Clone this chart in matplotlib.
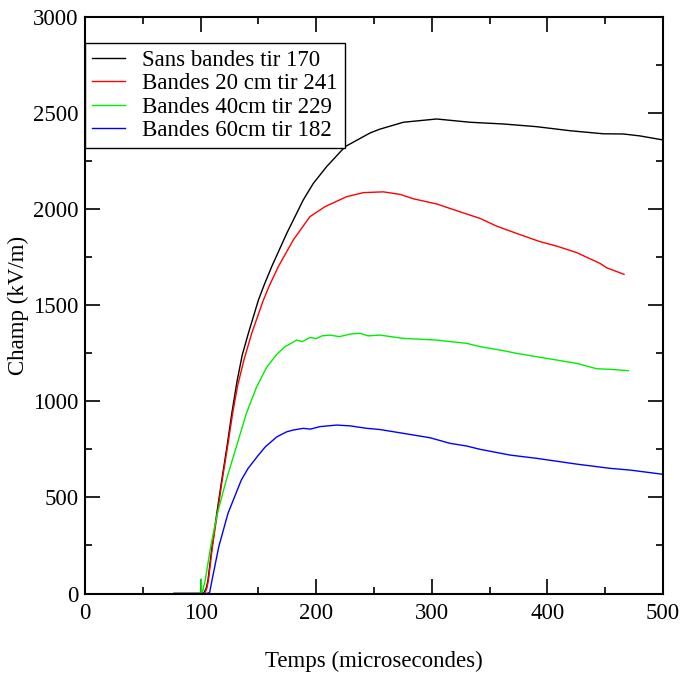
import numpy as np
import matplotlib as mpl
mpl.use('Agg')
import matplotlib.pyplot as plt
from matplotlib.ticker import MultipleLocator

# Temps (microsecondes) / Champ (kV/m)
black_t = [77, 100, 103, 105, 106.4, 109.9, 114, 118.3, 122.8, 127, 131.4, 136, 141.3,
           150, 155, 161.5, 174.5, 188.8, 197.5, 209, 225, 246.5, 255, 275.4, 304.2, 333,
           361.9, 390.7, 419.5, 448.4, 465.7, 480, 500]
black_v = [0, 0, 5, 30, 70, 243, 417, 590, 763, 937, 1100, 1240, 1353,
           1526, 1605, 1700, 1873, 2047, 2133, 2220, 2324, 2395, 2415, 2451, 2468, 2451,
           2442, 2428, 2407, 2391, 2390, 2380, 2359]

red_t = [77, 101, 104, 105.5, 106.8, 110.2, 114.5, 118.7, 123.3, 127.7, 132, 137.5, 144.2,
         154.3, 159.4, 167.2, 180.2, 194.6, 207.6, 226.4, 240.8, 258, 272.5, 284, 304.2,
         324, 341.7, 356, 373.3, 393.6, 408, 425.3, 445.5, 451.3, 466.3]
red_v = [0, 0, 5, 30, 70, 243, 417, 590, 763, 937, 1080, 1215, 1353,
         1526, 1600, 1700, 1839, 1960, 2012, 2064, 2085, 2089, 2076, 2053, 2026,
         1986, 1951, 1911, 1873, 1830, 1807, 1773, 1717, 1694, 1660]

green_t = [77, 98, 100.4, 100.6, 100.9, 102, 104, 108.7, 114.5, 122.2, 130.9, 139.6,
           148.5, 157, 166, 173, 178, 183, 188, 194.6, 200, 205, 212, 220, 230, 238,
           245, 255, 275.4, 304.2, 330.2, 341.7, 361.9, 373.4, 399.3, 425.3, 442.6,
           454, 470]
green_v = [0, 0, 5, 75, 5, 15, 70, 243, 417, 590, 763, 937,
           1075, 1175, 1245, 1284, 1300, 1318, 1310, 1332, 1326, 1340, 1344, 1336, 1350, 1353,
           1340, 1344, 1327, 1318, 1301, 1284, 1263, 1249, 1223, 1197, 1169,
           1166, 1159]

blue_t = [77, 105, 107.8, 109.9, 115.7, 123.7, 135.2, 141, 149, 156, 166, 174.5, 180,
          188.8, 195, 203.3, 217.7, 229.2, 243.7, 255, 275.4, 298.5, 315.8, 330.2,
          341.7, 367.7, 390.7, 425.3, 454.2, 471.5, 500]
blue_v = [0, 0, 5, 70, 243, 417, 590, 650, 712, 763, 815, 841, 850,
          859, 855, 868, 876, 872, 859, 853, 833, 810, 781, 767,
          750, 720, 703, 673, 651, 642, 620]

labels = ["Sans bandes tir 170", "Bandes 20 cm tir 241",
          "Bandes 40cm tir 229", "Bandes 60cm tir 182"]

def main():
	plt.rcParams['font.family'] = ['Liberation Serif', 'DejaVu Serif']
	fs = 16.5

	fig = plt.figure(figsize=(6.84, 6.75), dpi=100)
	ax = fig.add_axes([85/684, 1-593.5/675, (663-85)/684, (593.5-16.7)/675])

	ax.plot(black_t, black_v, color='black', lw=1.0, label=labels[0])
	ax.plot(red_t, red_v, color='red', lw=1.0, label=labels[1])
	ax.plot(green_t, green_v, color='#00ee00', lw=1.0, label=labels[2])
	ax.plot(blue_t, blue_v, color='blue', lw=1.0, label=labels[3])

	ax.set_xlim(0, 500)
	ax.set_ylim(0, 3000)
	ax.xaxis.set_major_locator(MultipleLocator(100))
	ax.xaxis.set_minor_locator(MultipleLocator(50))
	ax.yaxis.set_major_locator(MultipleLocator(500))
	ax.yaxis.set_minor_locator(MultipleLocator(250))
	ax.tick_params(which='both', direction='in', top=True, right=True, width=1.2,
	               labelsize=fs)
	ax.tick_params(which='major', length=11)
	ax.tick_params(which='minor', length=5)
	ax.tick_params(axis='x', which='major', pad=7)
	ax.tick_params(axis='y', which='major', pad=4.5)
	for s in ax.spines.values():
		s.set_linewidth(1.5)

	ax.set_xlabel("Temps (microsecondes)", fontsize=fs, labelpad=19)
	ax.set_ylabel("Champ (kV/m)", fontsize=fs)
	ax.yaxis.set_label_coords((29 - 85) / 578, 0.5)

	leg = ax.legend(loc='upper left', bbox_to_anchor=(0, 0.954), borderaxespad=0,
	                fontsize=fs, fancybox=False, edgecolor='black', framealpha=1,
	                handlelength=1.45, handletextpad=0.75, borderpad=0.3,
	                labelspacing=0.1)
	leg.get_frame().set_linewidth(1.0)

	plt.savefig("out.png", dpi=100)

if __name__ == '__main__':
	main()
